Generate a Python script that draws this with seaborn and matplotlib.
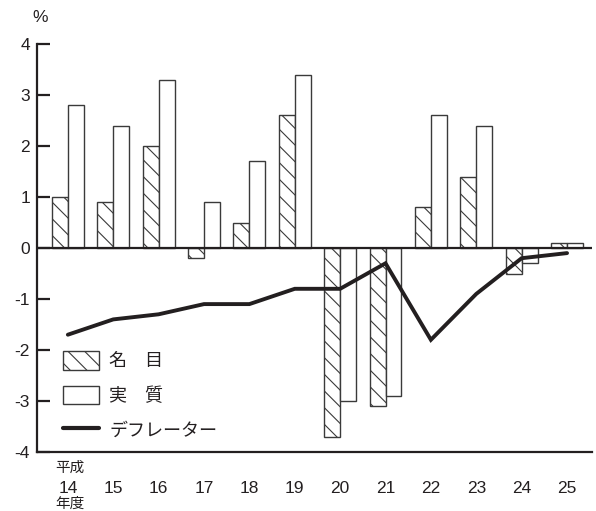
import numpy as np
import pandas as pd
import matplotlib
matplotlib.use("Agg")
import matplotlib.pyplot as plt
import seaborn as sns
from matplotlib.patches import Patch
from matplotlib.lines import Line2D

# Fiscal years (Heisei era) and growth rates, %
years = ["14", "15", "16", "17", "18", "19", "20", "21", "22", "23", "24", "25"]
nominal = [1.0, 0.9, 2.0, -0.2, 0.5, 2.6, -3.7, -3.1, 0.8, 1.4, -0.5, 0.1]
real = [2.8, 2.4, 3.3, 0.9, 1.7, 3.4, -3.0, -2.9, 2.6, 2.4, -0.3, 0.1]
deflator = [-1.7, -1.4, -1.3, -1.1, -1.1, -0.8, -0.8, -0.3, -1.8, -0.9, -0.2, -0.1]
series_labels = ["名\u3000目", "実\u3000質", "デフレーター"]
yticks = [4, 3, 2, 1, 0, -1, -2, -3, -4]

sns.set_theme(style="white")
plt.rcParams["font.family"] = ["Liberation Sans", "Noto Sans CJK JP", "DejaVu Sans"]
plt.rcParams["axes.unicode_minus"] = False
plt.rcParams["hatch.linewidth"] = 0.8

ink = "#231f20"
edge = "#3a3a3a"
hatch = "\\\\"

df = pd.DataFrame({
    "year": years * 2,
    "value": nominal + real,
    "series": [series_labels[0]] * len(years) + [series_labels[1]] * len(years),
})

fig = plt.figure(figsize=(5.96, 5.11), dpi=100)
ax = fig.add_axes([37 / 596, 1 - 452 / 511, (592 - 37) / 596, (452 - 44) / 511])

sns.barplot(data=df, x="year", y="value", hue="series", hue_order=series_labels[:2],
            palette=["white", "white"], width=0.7, gap=0, edgecolor=edge,
            linewidth=1.0, saturation=1, legend=False, ax=ax)

# hatch the nominal series
n = len(years)
for patch in ax.patches[:n]:
    patch.set_hatch(hatch)

sns.lineplot(x=np.arange(n), y=deflator, color=ink, linewidth=2.8, ax=ax,
             legend=False)
for ln in ax.lines:
    ln.set_solid_joinstyle("miter")

ax.axhline(0, color=ink, linewidth=1.6, zorder=3)

ax.set_xlim(-0.68, n - 1 + 0.55)
ax.set_ylim(-4, 4)
ax.set_yticks(yticks)
ax.set_yticklabels([str(v) for v in yticks])
ax.tick_params(axis="y", direction="in", length=9, width=1.6, color=ink,
               labelsize=12.5, labelcolor=ink, pad=5, left=True)
ax.tick_params(axis="x", length=0, labelsize=12.5, labelcolor=ink, pad=21)
ax.set_xticks(np.arange(n))
ax.set_xticklabels(years)
ax.set_xlabel("")
ax.set_ylabel("")

for side in ["top", "right"]:
    ax.spines[side].set_visible(False)
for side in ["left", "bottom"]:
    ax.spines[side].set_color(ink)
    ax.spines[side].set_linewidth(1.6)

# era / fiscal-year annotation around the first tick label
fig.text(70 / 596, 1 - 468 / 511, "平成", ha="center", va="center", fontsize=10.5,
         color=ink, family=["Noto Sans CJK JP"])
fig.text(70 / 596, 1 - 504 / 511, "年度", ha="center", va="center", fontsize=10.5,
         color=ink, family=["Noto Sans CJK JP"])
fig.text(40 / 596, 1 - 18 / 511, "%", ha="center", va="center", fontsize=12.5,
         color=ink)

handles = [
    Patch(facecolor="white", edgecolor=edge, hatch=hatch, linewidth=1.0),
    Patch(facecolor="white", edgecolor=edge, linewidth=1.0),
    Line2D([0], [0], color=ink, linewidth=3.0),
]
leg = ax.legend(handles, series_labels, loc="upper left",
                bbox_to_anchor=(63 / 596, 1 - 351 / 511), bbox_transform=fig.transFigure,
                frameon=False, borderpad=0, borderaxespad=0, handlelength=2.0,
                handleheight=1.2, handletextpad=0.55, labelspacing=0.85,
                prop={"family": ["Noto Sans CJK JP"], "size": 13})
for t in leg.get_texts():
    t.set_color(ink)

fig.savefig("out.png", dpi=100)
